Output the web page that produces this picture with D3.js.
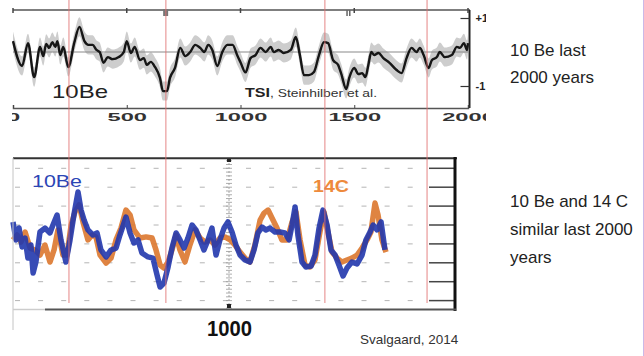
<!DOCTYPE html>
<html><head><meta charset="utf-8">
<script src="https://cdn.jsdelivr.net/npm/d3@7"></script>
<style>
body{margin:0;background:#fff}
svg{display:block;font-family:Arial,"Liberation Sans",sans-serif}
</style>
</head><body>
<svg id="chart" width="644" height="356"></svg>
<script>
// --- TSI reconstruction (Steinhilber et al.), W/m^2 anomaly ---
const tsiYears = [0,40,66,93,119,133,146,159,173,186,195,208,221,243,270,292,314,332,350,367,381,398,416,438,465,487,500,518,535,558,575,588,606,624,646,659,677,690,712,735,757,779,801,823,841,858,876,898,920,942,965,987,1000,1022,1044,1066,1088,1111,1133,1146,1168,1190,1221,1243,1261,1279,1301,1323,1345,1367,1385,1407,1429,1442,1465,1478,1500,1518,1535,1549,1562,1575,1588,1606,1628,1655,1686,1708,1730,1752,1774,1788,1805,1827,1841,1863,1876,1898,1929,1951,1965,1982,1996,2000];
const tsiValues = [0.32,-0.41,0.26,-0.74,0.15,-0.12,0.24,0.12,0.29,0.15,0.32,-0.09,0.15,-0.44,0.29,0.74,0.32,0.21,0.21,0.06,0,-0.32,-0.15,-0.21,-0.15,0,0.32,-0.03,0.15,-0.24,-0.18,-0.38,-0.29,-0.44,-0.76,-1.15,-1.15,-0.76,-0.47,0.12,-0.12,0,0.21,0.12,0,0.21,0.06,-0.41,0,0.21,0.21,-0.12,-0.3,-0.6,-0.18,-0.09,0.12,0,0.15,0,0.06,-0.03,0.06,0.44,-0.09,-0.68,-0.68,-0.59,-0.09,0.29,0.26,-0.24,-0.38,-0.62,-1.09,-0.76,-0.47,-0.65,-0.62,-0.74,-0.38,0,-0.09,-0.03,-0.18,-0.32,-0.53,-0.62,-0.18,0.12,0,0.12,-0.09,-0.47,-0.24,-0.15,0,-0.15,-0.09,0.15,0.12,0.26,0.06,0.26];
const tsiSpread = 0.28;

// --- 10Be and 14C based solar activity, normalised units ---
const beYears = [0,14,28,42,56,69,83,93,106,125,148,171,185,204,222,245,264,282,301,315,329,347,370,389,407,431,454,477,495,523,542,560,579,597,625,648,667,681,699,718,736,755,773,792,810,829,847,866,884,903,921,940,958,977,995,1014,1032,1051,1074,1097,1116,1134,1153,1171,1190,1213,1236,1259,1278,1292,1306,1319,1338,1356,1380,1398,1417,1435,1454,1472,1491,1509,1528,1546,1569,1593,1616,1634,1653,1667,1685,1704,1722];
const beValues = [1.16,0.21,0.84,-0.16,0.31,-0.75,-0.06,-1.54,-0.96,0.63,0.84,0.58,1.0,1.53,0.21,-0.96,0.21,1.53,2.75,1.79,1.26,0.74,0.47,0.58,-0.32,-0.69,-0.32,-0.22,0.47,1.42,0.58,0.05,0.21,-0.48,-0.69,-0.75,-1.65,-2.28,-2.07,-1.22,-0.22,0.58,0.21,-0.22,0.31,1.0,0.74,0.21,-0.32,0.21,0.84,-0.59,0.21,0.84,1.16,0.63,-0.06,-0.59,-0.85,-0.96,-0.32,0.58,0.89,0.74,0.84,0.63,0.63,0.58,0.21,1.0,1.95,0.47,-0.96,-1.22,-1.17,-0.59,0.84,1.79,1.0,-0.32,-0.59,-1.12,-1.7,-1.28,-0.96,-1.06,-0.59,0.21,0.63,1.0,0.74,1.16,-0.32];
const c14Years = [0,19,37,56,79,102,125,148,171,190,208,231,250,269,287,306,324,347,366,384,403,431,454,477,500,523,542,560,588,616,644,662,681,699,718,736,755,773,796,819,843,866,889,912,935,958,981,1005,1028,1051,1074,1097,1120,1144,1162,1181,1199,1222,1245,1269,1292,1310,1329,1352,1375,1398,1421,1440,1458,1477,1500,1523,1546,1569,1593,1616,1639,1657,1676,1690,1708,1727];
const c14Values = [0.21,0.47,0.1,0.63,-0.22,-0.32,-0.59,-0.06,-0.96,-0.32,0.74,-0.59,-0.59,1.0,1.69,2.06,1.16,0.21,0.47,0.37,-0.59,-1.01,-0.75,0.21,0.84,1.79,1.53,0.74,0.31,0.37,0.31,-0.32,-1.12,-1.28,-0.96,-0.32,0.47,-0.32,-0.96,-0.06,0.74,0.31,0.1,0.21,-0.06,0.31,0.37,0.21,-0.06,-0.43,-0.75,-0.96,-0.06,1.26,1.63,1.79,1.37,0.84,0.21,0.21,1.16,1.69,0.21,-1.12,-1.22,-0.85,0.63,1.69,0.63,-0.43,-0.75,-0.96,-0.85,-0.75,-0.59,-0.22,0.21,0.63,2.16,1.53,0.21,-0.43];

// grand minima marked across both panels
const markerYears = [246, 672, 1371, 1820];
const topTicks = [0, 500, 1000, 1500, 2000];
const tsiTicks = [1, -1];
const gridLevels = [-3, -2, -1, 0, 1, 2, 3, 4];
const bottomTicks = [1000];

const svg = d3.select("#chart");
const defs = svg.append("defs");
defs.append("clipPath").attr("id", "topClip")
  .append("rect").attr("x", 12).attr("y", 0).attr("width", 474).attr("height", 124);
defs.append("filter").attr("id", "soft").attr("x", "-5%").attr("y", "-5%").attr("width", "110%").attr("height", "110%")
  .append("feGaussianBlur").attr("stdDeviation", 0.7);
defs.append("filter").attr("id", "soft2")
  .append("feGaussianBlur").attr("stdDeviation", 0.35);

// ================= top panel: TSI =================
const xTop = d3.scaleLinear().domain([0, 2000]).range([13, 468]);
const yTop = d3.scaleLinear().domain([-1, 1]).range([86, 18]);
const topG = svg.append("g").attr("clip-path", "url(#topClip)");
const tsi = tsiYears.map((y, i) => ({year: y, v: tsiValues[i]}));

topG.append("path").datum(tsi)
  .attr("fill", "#cdcdcd").attr("filter", "url(#soft)")
  .attr("d", d3.area().curve(d3.curveMonotoneX)
    .x(d => xTop(d.year)).y0(d => yTop(d.v - tsiSpread)).y1(d => yTop(d.v + tsiSpread)));

topG.append("line").attr("x1", xTop(0)).attr("x2", xTop(2000))
  .attr("y1", yTop(0)).attr("y2", yTop(0)).attr("stroke", "#8a8a8a").attr("stroke-width", 1.2);

topG.append("path").datum(tsi)
  .attr("fill", "none").attr("stroke", "#141414").attr("stroke-width", 2.4)
  .attr("stroke-linejoin", "round").attr("filter", "url(#soft2)")
  .attr("d", d3.line().curve(d3.curveMonotoneX).x(d => xTop(d.year)).y(d => yTop(d.v)));

// frame
topG.append("line").attr("x1", 13).attr("x2", 470).attr("y1", 10).attr("y2", 10)
  .attr("stroke", "#555").attr("stroke-width", 1.5);
topG.append("line").attr("x1", 469.5).attr("x2", 469.5).attr("y1", 10).attr("y2", 108)
  .attr("stroke", "#222").attr("stroke-width", 2);

// bottom year axis
const axTop = topG.append("g").attr("transform", "translate(0,108)")
  .call(d3.axisBottom(xTop).tickValues(topTicks).tickSize(-3).tickFormat(d3.format("d")));
axTop.select(".domain").attr("stroke", "#555").attr("stroke-width", 1.5);
axTop.selectAll(".tick line").attr("stroke", "#444");
axTop.selectAll(".tick text")
  .attr("y", 5).attr("font-size", 11).attr("font-weight", "bold").attr("fill", "#333")
  .attr("font-family", "Arial,'Liberation Sans',sans-serif")
  .attr("transform", "scale(2.15,1)");
// top frame ticks
topG.append("g").selectAll("line").data(topTicks).join("line")
  .attr("x1", d => xTop(d)).attr("x2", d => xTop(d)).attr("y1", 8).attr("y2", 13)
  .attr("stroke", "#444").attr("stroke-width", 1.5);

// right TSI axis
const axR = topG.append("g").attr("transform", "translate(469.5,0)")
  .call(d3.axisRight(yTop).tickValues(tsiTicks).tickSize(-9).tickPadding(6)
    .tickFormat(d => d > 0 ? "+" + d : "-" + Math.abs(d)));
axR.select(".domain").remove();
axR.selectAll(".tick line").attr("stroke", "#333").attr("stroke-width", 1.2);
axR.selectAll(".tick text").attr("font-size", 11).attr("font-weight", "bold").attr("fill", "#222")
  .attr("font-family", "Arial,'Liberation Sans',sans-serif");

// small markers on top edge
topG.append("rect").attr("x", xTop(660)).attr("y", 9).attr("width", 5).attr("height", 7).attr("fill", "#777");
topG.append("rect").attr("x", xTop(1465)).attr("y", 10).attr("width", 1.5).attr("height", 6).attr("fill", "#666");
topG.append("rect").attr("x", xTop(1477)).attr("y", 10).attr("width", 1.5).attr("height", 6).attr("fill", "#666");

topG.append("text").attr("x", 52).attr("y", 98).attr("font-size", 19).attr("fill", "#222")
  .attr("textLength", 56).attr("lengthAdjust", "spacingAndGlyphs").text("10Be");
topG.append("text").attr("x", 245).attr("y", 97).attr("font-size", 12.5).attr("font-weight", "bold")
  .attr("fill", "#222").attr("textLength", 25).attr("lengthAdjust", "spacingAndGlyphs").text("TSI");
topG.append("text").attr("x", 270).attr("y", 97).attr("font-size", 11).attr("fill", "#333")
  .attr("textLength", 107).attr("lengthAdjust", "spacingAndGlyphs").text(", Steinhilber et al.");

// ================= bottom panel: 10Be vs 14C =================
const xBot = d3.scaleLinear().domain([0, 2000]).range([13, 445]);
const yBot = d3.scaleLinear().domain([-3, 4]).range([300.6, 168.3]);
const bot = svg.append("g");

// dashed grid
bot.append("g").selectAll("line").data(gridLevels).join("line")
  .attr("x1", 15).attr("x2", 425).attr("y1", d => yBot(d)).attr("y2", d => yBot(d))
  .attr("stroke", "#b4b4b4").attr("stroke-width", 1).attr("stroke-dasharray", "5,18.1");
// right solid ticks
bot.append("g").selectAll("line").data(gridLevels).join("line")
  .attr("x1", 429).attr("x2", 455).attr("y1", d => yBot(d)).attr("y2", d => yBot(d))
  .attr("stroke", "#444").attr("stroke-width", 1.5);

// centre ruler axis at year 1000
const cx = xBot(1000);
bot.append("line").attr("x1", cx).attr("x2", cx).attr("y1", 159).attr("y2", 307)
  .attr("stroke", "#aaa").attr("stroke-width", 1).attr("stroke-dasharray", "2,2");
bot.append("g").selectAll("line").data(d3.range(-3.4, 4.5, 0.2)).join("line")
  .attr("x1", cx - 3).attr("x2", cx + 3).attr("y1", d => yBot(d)).attr("y2", d => yBot(d))
  .attr("stroke", "#999").attr("stroke-width", 0.8);
bot.append("rect").attr("x", cx - 2).attr("y", 158).attr("width", 4).attr("height", 4).attr("fill", "#222");
bot.append("rect").attr("x", cx - 2).attr("y", 304).attr("width", 4).attr("height", 4).attr("fill", "#222");

// series
const c14 = c14Years.map((y, i) => ({year: y, v: c14Values[i]}));
const be = beYears.map((y, i) => ({year: y, v: beValues[i]}));
const lineB = d3.line().x(d => xBot(d.year)).y(d => yBot(d.v));
bot.append("path").datum(c14).attr("fill", "none").attr("stroke", "#dd7a30").attr("stroke-width", 5.5)
  .attr("stroke-linejoin", "round").attr("opacity", 0.92).attr("filter", "url(#soft)").attr("d", lineB);
bot.append("path").datum(be).attr("fill", "none").attr("stroke", "#2238ae").attr("stroke-width", 5.5)
  .attr("stroke-linejoin", "round").attr("opacity", 0.9).attr("filter", "url(#soft)").attr("d", lineB);

// frame
bot.append("line").attr("x1", 13).attr("x2", 457).attr("y1", 158.3).attr("y2", 158.3)
  .attr("stroke", "#333").attr("stroke-width", 2);
bot.append("line").attr("x1", 13).attr("x2", 13).attr("y1", 158).attr("y2", 330)
  .attr("stroke", "#c4c4c4").attr("stroke-width", 1);
bot.append("line").attr("x1", 455).attr("x2", 455).attr("y1", 157).attr("y2", 311)
  .attr("stroke", "#111").attr("stroke-width", 3);
bot.append("line").attr("x1", 13).attr("x2", 45).attr("y1", 309.5).attr("y2", 309.5)
  .attr("stroke", "#ccc").attr("stroke-width", 1.5);
bot.append("line").attr("x1", 45).attr("x2", 456).attr("y1", 309.5).attr("y2", 309.5)
  .attr("stroke", "#555").attr("stroke-width", 2);

const axB = bot.append("g").attr("transform", "translate(0,310)")
  .call(d3.axisBottom(xBot).tickValues(bottomTicks).tickSize(0).tickPadding(10).tickFormat(d3.format("d")));
axB.select(".domain").remove();
axB.selectAll(".tick text").attr("font-size", 22).attr("font-weight", "bold").attr("fill", "#111")
  .attr("font-family", "Arial,'Liberation Sans',sans-serif")
  .attr("textLength", 45).attr("lengthAdjust", "spacingAndGlyphs");

bot.append("text").attr("x", 32).attr("y", 187).attr("font-size", 16.5).attr("fill", "#2b45b5")
  .attr("textLength", 50).attr("lengthAdjust", "spacingAndGlyphs").text("10Be");
bot.append("text").attr("x", 313).attr("y", 192).attr("font-size", 16).attr("font-weight", "bold")
  .attr("fill", "#ee8a3c").attr("textLength", 36).attr("lengthAdjust", "spacingAndGlyphs").text("14C");

// red markers spanning both panels
svg.append("g").selectAll("line").data(markerYears).join("line")
  .attr("x1", d => xTop(d)).attr("x2", d => xTop(d)).attr("y1", 0).attr("y2", 303)
  .attr("stroke", "#e07070").attr("stroke-width", 1).attr("opacity", 0.85);

// captions
svg.append("text").attr("x", 360).attr("y", 344).attr("font-size", 13.5).attr("fill", "#333")
  .text("Svalgaard, 2014");
const cap = svg.append("g").attr("font-size", 17).attr("fill", "#222");
[["10 Be last", 56], ["2000 years", 83], ["10 Be and 14 C", 207], ["similar last 2000", 235], ["years", 263]]
  .forEach(([t, y]) => cap.append("text").attr("x", 510).attr("y", y).text(t));

svg.append("line").attr("x1", 643.5).attr("x2", 643.5).attr("y1", 0).attr("y2", 356)
  .attr("stroke", "#cbb9e8").attr("stroke-width", 1);
</script>
</body></html>
